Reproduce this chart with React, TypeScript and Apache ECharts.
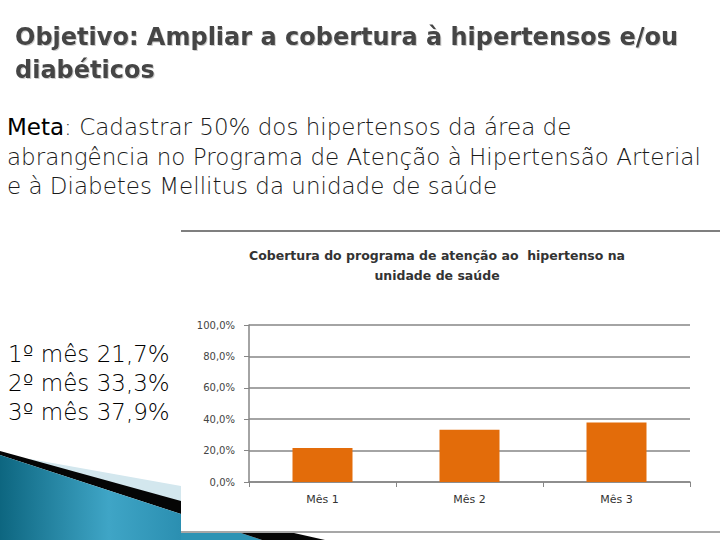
import React, { useEffect, useRef } from "react";
import * as echarts from "echarts";

const categories = ["Mês 1", "Mês 2", "Mês 3"];
const coverage = [21.7, 33.3, 37.9];
const yTicks = [0, 20, 40, 60, 80, 100];
const monthLines = ["1º mês 21,7%", "2º mês 33,3%", "3º mês 37,9%"];
const chartTitle = ["Cobertura do programa de atenção ao  hipertenso na", "unidade de saúde"];
const slideTitle = ["Objetivo: Ampliar a cobertura à hipertensos e/ou", "diabéticos"];
const metaLines = [
  "Cadastrar 50% dos hipertensos da área de",
  "abrangência no Programa de Atenção à Hipertensão Arterial",
  "e à Diabetes Mellitus da unidade de saúde",
];

const fmt = (v: number) => v.toFixed(1).replace(".", ",") + "%";

export default function App() {
  const ref = useRef<HTMLDivElement>(null);
  useEffect(() => {
    document.body.style.margin = "0";
    const chart = echarts.init(ref.current!, null, { renderer: "svg" });
    const teal = new echarts.graphic.LinearGradient(0, 0, 1, 0, [
      { offset: 0, color: "#0d6680" },
      { offset: 0.6, color: "#3fa5c6" },
      { offset: 1, color: "#2b8fb1" },
    ]);
    const graphics: any[] = [
      { type: "polygon", shape: { points: [[30, 459], [181, 486], [181, 502], [30, 461]] }, style: { fill: "#d3e7ee" } },
      { type: "polygon", shape: { points: [[0, 451], [181, 501], [181, 514], [0, 455]] }, style: { fill: "#050505" } },
      { type: "polygon", shape: { points: [[0, 455], [181, 514], [181, 540], [0, 540]] }, style: { fill: teal } },
      { type: "polygon", shape: { points: [[181, 533], [241, 533], [262, 540], [181, 540]] }, style: { fill: "#2d93b4" } },
      { type: "polygon", shape: { points: [[241, 533], [294, 533], [325, 540], [262, 540]] }, style: { fill: "#050505" } },
      { type: "line", shape: { x1: 181, y1: 231, x2: 720, y2: 231 }, style: { stroke: "#7f7f7f", lineWidth: 2 } },
      { type: "line", shape: { x1: 181, y1: 532, x2: 720, y2: 532 }, style: { stroke: "#8a8a8a", lineWidth: 1.5 } },
      ...slideTitle.map((t, i) => ({
        type: "text",
        x: 15,
        y: 37 + i * 33,
        style: {
          text: t,
          fontFamily: "DejaVu Sans",
          fontSize: 24,
          fontWeight: "bold",
          fill: "#454545",
          verticalAlign: "middle",
          textShadowColor: "rgba(0,0,0,0.2)",
          textShadowOffsetX: 1,
          textShadowOffsetY: 1,
          textShadowBlur: 1,
        },
      })),
      ...metaLines.map((t, i) => ({
        type: "text",
        x: 7,
        y: 127 + i * 29.5,
        style: {
          text: i === 0 ? "{b|Meta}: " + t : t,
          rich: { b: { fontFamily: "DejaVu Sans", fontSize: 23, fill: "#000", fontWeight: "normal" } },
          fontFamily: "DejaVu Sans",
          fontSize: 23,
          fontWeight: 200,
          fill: "#1a1a1a",
          verticalAlign: "middle",
        },
      })),
      ...monthLines.map((t, i) => ({
        type: "text",
        x: 8,
        y: 354 + i * 29,
        style: {
          text: t,
          fontFamily: "DejaVu Sans",
          fontSize: 23,
          fontWeight: 200,
          fill: "#000",
          verticalAlign: "middle",
        },
      })),
      ...chartTitle.map((t, i) => ({
        type: "text",
        x: 437,
        y: 255 + i * 20,
        style: {
          text: t,
          fontFamily: "DejaVu Sans",
          fontSize: 12.5,
          fontWeight: "bold",
          fill: "#333",
          align: "center",
          verticalAlign: "middle",
        },
      })),
    ];
    chart.setOption({
      animation: false,
      backgroundColor: "#fff",
      grid: { left: 249, right: 30, top: 325, bottom: 58 },
      xAxis: {
        type: "category",
        data: categories,
        axisLine: { lineStyle: { color: "#868686", width: 1.5 } },
        axisTick: { show: true, length: 5, lineStyle: { color: "#868686" } },
        axisLabel: { color: "#333", fontSize: 11, fontFamily: "DejaVu Sans", margin: 12 },
      },
      yAxis: {
        type: "value",
        min: yTicks[0],
        max: yTicks[yTicks.length - 1],
        interval: yTicks[1] - yTicks[0],
        axisLine: { show: true, lineStyle: { color: "#868686", width: 1.5 } },
        axisTick: { show: true, length: 5, lineStyle: { color: "#868686" } },
        splitLine: { lineStyle: { color: "#868686", width: 1.5 } },
        axisLabel: { color: "#444", fontSize: 10, fontFamily: "DejaVu Sans", margin: 14, formatter: fmt },
      },
      series: [
        {
          type: "bar",
          data: coverage,
          barWidth: 60,
          itemStyle: { color: "#E36C0A" },
        },
      ],
      graphic: { elements: graphics },
    });
    return () => chart.dispose();
  }, []);
  return <div ref={ref} style={{ position: "absolute", left: 0, top: 0, width: 720, height: 540 }} />;
}
